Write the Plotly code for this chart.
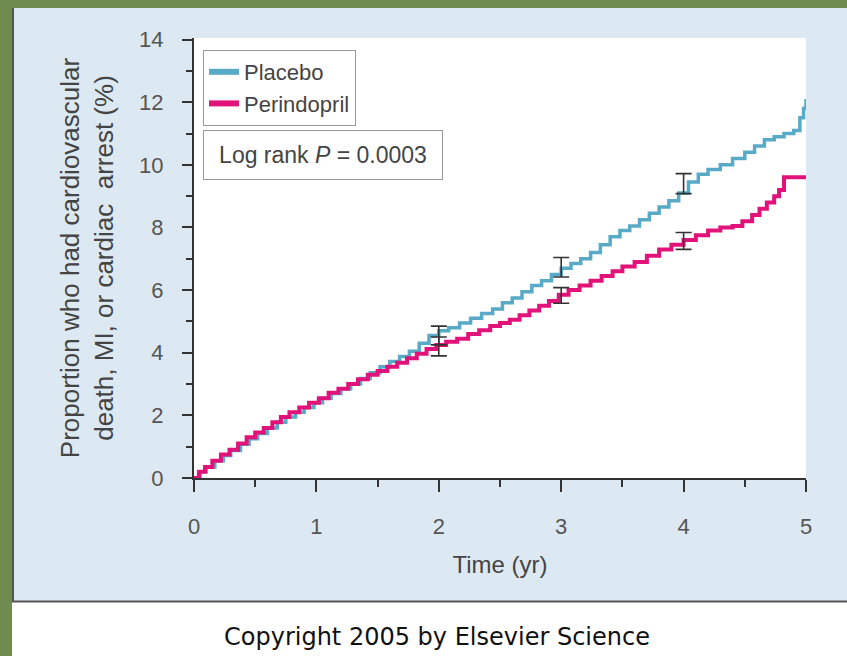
import plotly.graph_objects as go

# ---------------- data ----------------
placebo_t = [0, 0.05, 0.1, 0.17, 0.24, 0.3, 0.38, 0.45, 0.52, 0.6, 0.68, 0.75, 0.83, 0.9, 0.98,
             1.05, 1.12, 1.2, 1.28, 1.36, 1.44, 1.52, 1.6, 1.68, 1.76, 1.84, 1.92, 2.0, 2.08,
             2.17, 2.26, 2.35, 2.44, 2.52, 2.6, 2.68, 2.76, 2.84, 2.92, 3.0, 3.08, 3.16, 3.24,
             3.32, 3.4, 3.48, 3.56, 3.64, 3.72, 3.8, 3.88, 3.96, 4.04, 4.12, 4.2, 4.3, 4.4,
             4.5, 4.58, 4.66, 4.74, 4.82, 4.9, 4.95, 4.98, 5.0]
placebo_v = [0, 0.2, 0.35, 0.55, 0.72, 0.88, 1.08, 1.25, 1.42, 1.6, 1.78, 1.95, 2.1, 2.25, 2.4,
             2.55, 2.7, 2.85, 3.0, 3.18, 3.36, 3.55, 3.72, 3.88, 4.05, 4.3, 4.55, 4.7, 4.8,
             4.95, 5.1, 5.25, 5.4, 5.6, 5.75, 5.95, 6.15, 6.3, 6.5, 6.7, 6.85, 7.0, 7.2,
             7.45, 7.7, 7.9, 8.05, 8.25, 8.45, 8.65, 8.85, 9.1, 9.45, 9.7, 9.85, 10.0, 10.2,
             10.4, 10.6, 10.8, 10.9, 11.0, 11.1, 11.5, 11.8, 12.1]

perindopril_t = [0, 0.04, 0.09, 0.15, 0.22, 0.29, 0.36, 0.43, 0.5, 0.57, 0.64, 0.71, 0.78,
                 0.86, 0.94, 1.02, 1.1, 1.18, 1.26, 1.34, 1.42, 1.5, 1.58, 1.66, 1.74, 1.82,
                 1.9, 1.98, 2.06, 2.15, 2.24, 2.33, 2.42, 2.5, 2.58, 2.66, 2.74, 2.82, 2.9,
                 2.98, 3.06, 3.15, 3.24, 3.33, 3.42, 3.5, 3.6, 3.7, 3.8, 3.9, 4.0, 4.1, 4.2,
                 4.3, 4.4, 4.48, 4.56, 4.62, 4.68, 4.74, 4.78, 4.82, 5.0]
perindopril_v = [0, 0.2, 0.35, 0.55, 0.75, 0.9, 1.1, 1.3, 1.45, 1.6, 1.78, 1.95, 2.1,
                 2.25, 2.4, 2.55, 2.72, 2.85, 3.0, 3.15, 3.3, 3.42, 3.55, 3.68, 3.82, 3.97,
                 4.12, 4.25, 4.35, 4.45, 4.6, 4.72, 4.85, 4.95, 5.05, 5.2, 5.35, 5.5, 5.65,
                 5.85, 6.0, 6.15, 6.3, 6.45, 6.6, 6.75, 6.9, 7.1, 7.3, 7.45, 7.6, 7.75, 7.9,
                 8.0, 8.05, 8.2, 8.4, 8.6, 8.8, 9.0, 9.2, 9.6, 9.6]

err_times = [2, 3, 4]
placebo_err_mid = [4.55, 6.73, 9.4]
placebo_err_half = [0.3, 0.31, 0.32]
perindopril_err_mid = [4.2, 5.83, 7.57]
perindopril_err_half = [0.3, 0.25, 0.27]

x_ticks = [0, 1, 2, 3, 4, 5]
y_ticks = [0, 2, 4, 6, 8, 10, 12, 14]

# ---------------- styling ----------------
W, H = 847, 656
L, R, T, B = 194, 41, 38, 178
PW, PH = W - L - R, H - T - B

def px(xp):
    return (xp - L) / PW

def py(yp):
    return (H - B - yp) / PH

GREEN = "#6f8b4f"
PANEL = "#dde9f2"
PLACEBO = "#58aac6"
PERIND = "#e2127b"
FONT = "Liberation Sans, Arial, sans-serif"

fig = go.Figure()

fig.add_trace(go.Scatter(x=placebo_t, y=placebo_v, mode="lines", line_shape="hv",
                         line=dict(color=PLACEBO, width=3.5), showlegend=False, name="Placebo"))
fig.add_trace(go.Scatter(x=perindopril_t, y=perindopril_v, mode="lines", line_shape="hv",
                         line=dict(color=PERIND, width=4), showlegend=False, name="Perindopril"))

for mids, halfs in ((placebo_err_mid, placebo_err_half), (perindopril_err_mid, perindopril_err_half)):
    fig.add_trace(go.Scatter(x=err_times, y=mids, mode="markers",
                             marker=dict(size=1, color="rgba(0,0,0,0)"),
                             error_y=dict(type="data", array=halfs, symmetric=True,
                                          color="#333333", thickness=1.6, width=8),
                             showlegend=False, hoverinfo="skip"))

# legend entries
fig.add_trace(go.Scatter(x=[None], y=[None], mode="lines", name="Placebo",
                         line=dict(color=PLACEBO, width=6)))
fig.add_trace(go.Scatter(x=[None], y=[None], mode="lines", name="Perindopril",
                         line=dict(color=PERIND, width=6)))

shapes = [
    dict(type="rect", xref="paper", yref="paper", x0=px(0), x1=px(W), y0=py(0), y1=py(8),
         fillcolor=GREEN, line=dict(width=0), layer="below"),
    dict(type="rect", xref="paper", yref="paper", x0=px(0), x1=px(12), y0=py(0), y1=py(H),
         fillcolor=GREEN, line=dict(width=0), layer="below"),
    dict(type="rect", xref="paper", yref="paper", x0=px(12), x1=px(W), y0=py(602), y1=py(H),
         fillcolor="white", line=dict(width=0), layer="below"),
    dict(type="line", xref="paper", yref="paper", x0=px(13), x1=px(13), y0=py(8), y1=py(602),
         line=dict(color="#555555", width=2), layer="below"),
    dict(type="line", xref="paper", yref="paper", x0=px(12), x1=px(W), y0=py(601.5), y1=py(601.5),
         line=dict(color="#555555", width=2), layer="below"),
]

annotations = [
    dict(text="Log rank <i>P</i> = 0.0003", xref="paper", yref="paper",
         x=px(203), y=py(155), xanchor="left", yanchor="middle", showarrow=False,
         font=dict(family=FONT, size=23, color="#444444"),
         bordercolor="#999999", borderwidth=1, borderpad=6, bgcolor="white",
         width=226, height=36, align="center"),
    dict(text="Copyright 2005 by Elsevier Science", xref="paper", yref="paper",
         x=px(437), y=py(637), xanchor="center", yanchor="middle", showarrow=False,
         font=dict(family="DejaVu Sans, sans-serif", size=24, color="#111111")),
]

fig.update_layout(
    width=W, height=H,
    margin=dict(l=L, r=R, t=T, b=B, pad=0),
    paper_bgcolor=PANEL, plot_bgcolor="white",
    font=dict(family=FONT, color="#444444"),
    shapes=shapes, annotations=annotations,
    legend=dict(x=px(203), y=py(50), xanchor="left", yanchor="top",
                bgcolor="white", bordercolor="#999999", borderwidth=1,
                font=dict(family=FONT, size=22, color="#444444"),
                itemwidth=30, tracegroupgap=0),
    xaxis=dict(range=[0, 5], tickvals=x_ticks, ticktext=[str(v) for v in x_ticks],
               showline=True, linecolor="#333333", linewidth=2, mirror=False,
               ticks="outside", ticklen=12, tickwidth=1.6, tickcolor="#333333",
               minor=dict(dtick=0.5, tick0=0, ticks="outside", ticklen=7, tickwidth=1.6,
                          tickcolor="#333333", showgrid=False),
               showgrid=False, zeroline=False, ticklabelstandoff=16,
               tickfont=dict(family=FONT, size=22, color="#555555"),
               title=dict(text="Time (yr)", standoff=18,
                          font=dict(family=FONT, size=24, color="#444444"))),
    yaxis=dict(range=[0, 14.05], tickvals=y_ticks, ticktext=[str(v) for v in y_ticks],
               showline=True, linecolor="#333333", linewidth=2,
               ticks="outside", ticklen=10, tickwidth=1.6, tickcolor="#333333",
               minor=dict(dtick=1, tick0=0, ticks="outside", ticklen=6, tickwidth=1.6,
                          tickcolor="#333333", showgrid=False),
               showgrid=False, zeroline=False, ticklabelstandoff=14,
               tickfont=dict(family=FONT, size=22, color="#555555"),
               title=dict(text="Proportion who had cardiovascular<br>death, MI, or cardiac\u00a0 arrest (%)",
                          standoff=18, font=dict(family=FONT, size=26, color="#444444"))),
)

fig.write_html("out.html")
